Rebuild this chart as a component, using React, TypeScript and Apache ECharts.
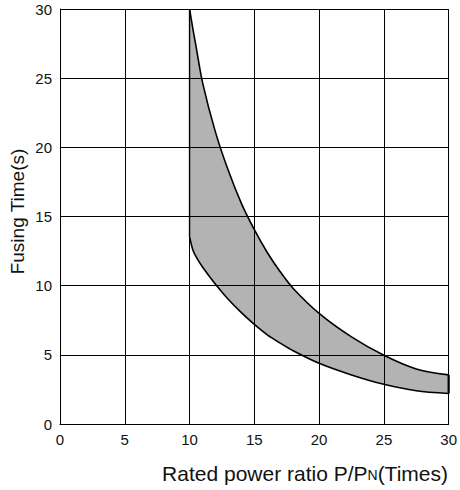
import React, { useEffect, useRef } from "react";
import * as echarts from "echarts";

// Power ratio P/PN (Times) at which the curves were read
const X_VALUES = [10, 10.25, 10.5, 11, 12, 13, 14, 15, 16, 17, 18, 20, 22.5, 25, 27.5, 30];
// Upper limit of fusing time (s)
const UPPER_TIME = [30, 28.6, 27.3, 24.7, 21.1, 18.3, 15.95, 14.05, 12.4, 11.0, 9.8, 8.0, 6.3, 4.97, 3.98, 3.55];
// Lower limit of fusing time (s)
const LOWER_TIME = [13.55, 12.6, 12.1, 11.35, 10.1, 9.0, 8.05, 7.2, 6.45, 5.85, 5.3, 4.39, 3.55, 2.87, 2.4, 2.2];

const X_TICKS = [0, 5, 10, 15, 20, 25, 30];
const Y_TICKS = [0, 5, 10, 15, 20, 25, 30];

const FONT = "'Liberation Sans', Arial, Helvetica, sans-serif";

export default function App() {
  const ref = useRef<HTMLDivElement>(null);

  useEffect(() => {
    if (!ref.current) return;
    const chart = echarts.init(ref.current, undefined, { renderer: "svg" });

    const upperData = X_VALUES.map((x, i) => [x, UPPER_TIME[i]]);
    const lowerData = X_VALUES.map((x, i) => [x, LOWER_TIME[i]]);
    const n = X_VALUES.length - 1;
    const leftEdge = [
      [X_VALUES[0], UPPER_TIME[0]],
      [X_VALUES[0], LOWER_TIME[0]],
    ];
    const rightEdge = [
      [X_VALUES[n], UPPER_TIME[n]],
      [X_VALUES[n], LOWER_TIME[n]],
    ];

    chart.setOption({
      animation: false,
      backgroundColor: "#ffffff",
      textStyle: { fontFamily: FONT },
      grid: { left: 60, right: 10, top: 9, bottom: 66, containLabel: false },
      xAxis: {
        type: "value",
        min: X_TICKS[0],
        max: X_TICKS[X_TICKS.length - 1],
        interval: 5,
        z: 3,
        axisLine: { show: true, lineStyle: { color: "#000", width: 1 } },
        axisTick: { show: false },
        splitLine: { show: true, lineStyle: { color: "#000", width: 1 } },
        axisLabel: { fontSize: 15, color: "#111", margin: 8, fontFamily: FONT },
      },
      yAxis: {
        type: "value",
        min: Y_TICKS[0],
        max: Y_TICKS[Y_TICKS.length - 1],
        interval: 5,
        z: 3,
        axisLine: { show: true, lineStyle: { color: "#000", width: 1 } },
        axisTick: { show: false },
        splitLine: { show: true, lineStyle: { color: "#000", width: 1 } },
        axisLabel: {
          fontSize: 15,
          color: "#111",
          margin: 8,
          fontFamily: FONT,
          padding: [7, 0, 0, 0],
        },
      },
      series: [
        {
          type: "line",
          name: "upper",
          data: upperData,
          smooth: 0.3,
          showSymbol: false,
          symbol: "none",
          z: 1,
          lineStyle: { color: "#000", width: 1.6 },
          areaStyle: { color: "#b3b3b3", opacity: 1, origin: "start" },
        },
        {
          type: "line",
          name: "lower",
          data: lowerData,
          smooth: 0.3,
          showSymbol: false,
          symbol: "none",
          z: 2,
          lineStyle: { color: "#000", width: 1.6 },
          areaStyle: { color: "#ffffff", opacity: 1, origin: "start" },
        },
        {
          type: "line",
          data: leftEdge,
          showSymbol: false,
          symbol: "none",
          z: 4,
          lineStyle: { color: "#000", width: 1.4 },
        },
        {
          type: "line",
          data: rightEdge,
          showSymbol: false,
          symbol: "none",
          z: 4,
          lineStyle: { color: "#000", width: 2.2 },
        },
      ],
      graphic: [
        {
          type: "text",
          x: 448,
          y: 473,
          z: 10,
          style: {
            text: "{a|Rated power ratio P/P}{b|N}{a|(Times)}",
            align: "right",
            verticalAlign: "middle",
            fill: "#111",
            fontFamily: FONT,
            fontSize: 21,
            rich: {
              a: { fontSize: 21, fontFamily: FONT, fill: "#111", verticalAlign: "bottom" },
              b: {
                fontSize: 14,
                fontFamily: FONT,
                fill: "#111",
                verticalAlign: "bottom",
                padding: [0, 0, 2, 0],
              },
            },
          },
        },
        {
          type: "text",
          x: 17,
          y: 211.5,
          rotation: Math.PI / 2,
          z: 10,
          style: {
            text: "Fusing Time(s)",
            align: "center",
            verticalAlign: "middle",
            fill: "#111",
            fontFamily: FONT,
            fontSize: 19,
          },
        },
      ],
    });

    return () => {
      chart.dispose();
    };
  }, []);

  return (
    <div
      ref={ref}
      style={{ position: "absolute", left: 0, top: 0, width: 460, height: 490 }}
    />
  );
}
